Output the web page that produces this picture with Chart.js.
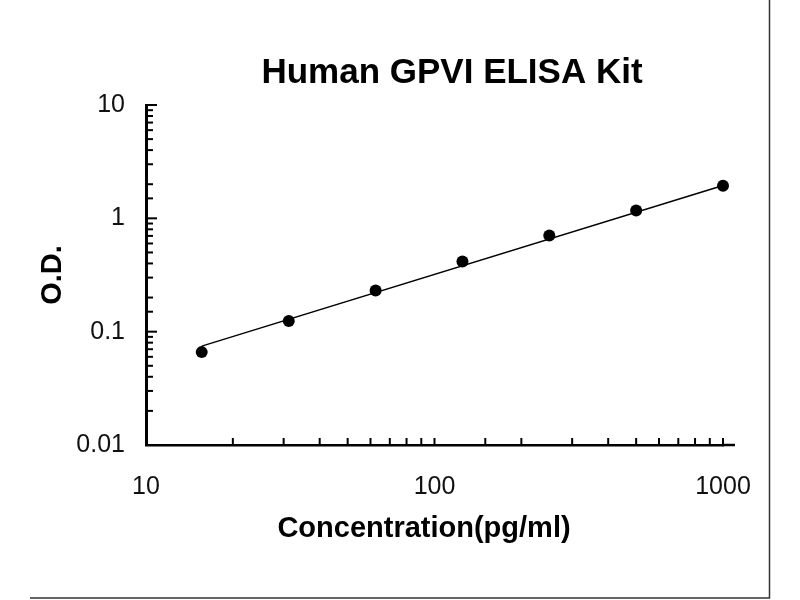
<!DOCTYPE html>
<html>
<head>
<meta charset="utf-8">
<title>Human GPVI ELISA Kit</title>
<script src="https://cdn.jsdelivr.net/npm/chart.js@4.4.0/dist/chart.umd.min.js"></script>
<style>
  html, body { margin: 0; padding: 0; background: #fff; }
  #wrap { width: 800px; height: 600px; }
</style>
</head>
<body>
<div id="wrap"><canvas id="elisaChart" width="800" height="600"></canvas></div>
<script>
// Standard curve data
const chartTitle = 'Human GPVI ELISA Kit';
const xTitle = 'Concentration(pg/ml)';
const yTitle = 'O.D.';
const concentrations = [15.6, 31.25, 62.5, 125, 250, 500, 1000];
const odValues = [0.066, 0.124, 0.231, 0.416, 0.705, 1.17, 1.94];
// trend line end points
const trendX = [15.6, 1000];
const trendY = [0.0745, 1.95];

const labelFont = { family: 'Liberation Sans', size: 25 };
const boldFont = { family: 'Liberation Sans', size: 29, weight: 'bold' };

function isDecade(v) {
  const l = Math.log10(v);
  return Math.abs(l - Math.round(l)) < 1e-6;
}

// Draw inward tick marks, main title, x title and the frame
const decorPlugin = {
  id: 'decor',
  afterDraw(chart) {
    const ctx = chart.ctx;
    const area = chart.chartArea;
    const xs = chart.scales.x;
    const ys = chart.scales.y;

    ctx.save();
    ctx.strokeStyle = '#000';
    ctx.lineWidth = 2;
    xs.ticks.forEach(t => {
      const px = xs.getPixelForValue(t.value);
      if (px <= area.left + 1) return;
      ctx.beginPath();
      ctx.moveTo(px, area.bottom);
      ctx.lineTo(px, area.bottom - 7);
      ctx.stroke();
    });
    ys.ticks.forEach(t => {
      const py = ys.getPixelForValue(t.value);
      if (py >= area.bottom - 1) return;
      const len = isDecade(t.value) ? 11 : 7;
      ctx.beginPath();
      ctx.moveTo(area.left, py);
      ctx.lineTo(area.left + len, py);
      ctx.stroke();
    });

    // x axis line runs a little past the last tick
    ctx.lineWidth = 2.5;
    ctx.beginPath();
    ctx.moveTo(area.right - 1, area.bottom);
    ctx.lineTo(area.right + 12, area.bottom);
    ctx.stroke();

    ctx.fillStyle = '#000';
    ctx.textAlign = 'center';
    ctx.textBaseline = 'alphabetic';
    ctx.font = 'bold 35px "Liberation Sans"';
    ctx.fillText(chartTitle, 452, 83);
    ctx.font = 'bold 29px "Liberation Sans"';
    ctx.fillText(xTitle, 424, 537);

    ctx.strokeStyle = '#333';
    ctx.lineWidth = 1.5;
    ctx.beginPath();
    ctx.moveTo(30, 598);
    ctx.lineTo(769.5, 598);
    ctx.lineTo(769.5, 0);
    ctx.stroke();
    ctx.restore();
  }
};

const ctx = document.getElementById('elisaChart').getContext('2d');
new Chart(ctx, {
  type: 'scatter',
  data: {
    datasets: [
      {
        label: 'Trend',
        data: trendX.map((x, i) => ({ x: x, y: trendY[i] })),
        showLine: true,
        borderColor: '#000',
        borderWidth: 1.5,
        pointRadius: 0,
        fill: false,
        clip: false
      },
      {
        label: 'Standard',
        data: concentrations.map((c, i) => ({ x: c, y: odValues[i] })),
        showLine: false,
        pointRadius: 6,
        pointBackgroundColor: '#000',
        pointBorderColor: '#000',
        pointBorderWidth: 0,
        clip: false
      }
    ]
  },
  options: {
    responsive: false,
    animation: false,
    layout: { padding: { top: 105, right: 77, bottom: 0, left: 0 } },
    plugins: {
      legend: { display: false },
      tooltip: { enabled: false },
      title: { display: false }
    },
    scales: {
      x: {
        type: 'logarithmic',
        min: 10,
        max: 1000,
        afterFit: scale => { scale.height = 155; },
        grid: { display: true, drawOnChartArea: false, drawTicks: false },
        border: { display: true, color: '#000', width: 2.5 },
        ticks: {
          autoSkip: false,
          maxRotation: 0,
          padding: 27,
          color: '#111',
          font: labelFont,
          callback: v => isDecade(v) ? String(v) : ''
        }
      },
      y: {
        type: 'logarithmic',
        min: 0.01,
        max: 10,
        afterFit: scale => { scale.width = 146; },
        grid: { display: true, drawOnChartArea: false, drawTicks: false },
        border: { display: true, color: '#000', width: 3 },
        title: {
          display: true,
          text: yTitle,
          color: '#000',
          font: boldFont,
          padding: { top: 36, bottom: 0 }
        },
        ticks: {
          autoSkip: false,
          padding: 21,
          color: '#111',
          font: labelFont,
          callback: v => isDecade(v) ? String(v) : ''
        }
      }
    }
  },
  plugins: [decorPlugin]
});
</script>
</body>
</html>
